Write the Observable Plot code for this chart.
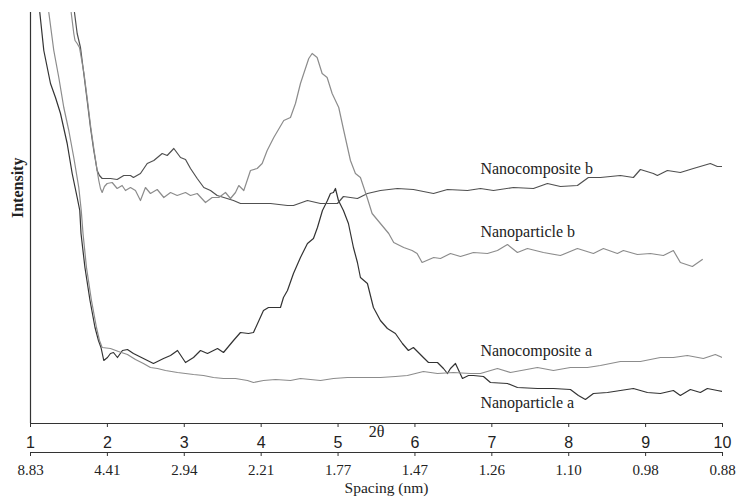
<!DOCTYPE html>
<html><head><meta charset="utf-8">
<script src="https://cdn.jsdelivr.net/npm/d3@7"></script>
<script src="https://cdn.jsdelivr.net/npm/@observablehq/plot@0.6"></script>
<style>body{margin:0;background:#fff}</style>
</head><body><div id="chart"></div>
<script>
const twoThetaTicks = [1, 2, 3, 4, 5, 6, 7, 8, 9, 10];
const spacingLabels = ["8.83", "4.41", "2.94", "2.21", "1.77", "1.47", "1.26", "1.10", "0.98", "0.88"];
const seriesNames = ["Nanoparticle a", "Nanocomposite a", "Nanocomposite b", "Nanoparticle b"];
const seriesColors = ["#333333", "#8c8c8c", "#505050", "#8c8c8c"];

// [2θ, intensity (arbitrary units)]
const nanoparticleA = [[1.121,411],[1.173,373],[1.260,340],[1.325,326],[1.390,310],[1.477,280],[1.542,250],[1.607,226],[1.641,213],[1.657,190],[1.708,156],[1.774,123],[1.839,96],[1.884,83],[1.917,76],[1.953,63],[2.001,66],[2.040,70],[2.079,71],[2.131,66],[2.196,73],[2.261,74],[2.339,70],[2.391,68],[2.469,65],[2.599,60],[2.730,65],[2.821,68],[2.912,73],[3.016,61],[3.120,66],[3.211,73],[3.302,70],[3.432,75],[3.510,71],[3.640,83],[3.731,91],[3.835,90],[3.900,91],[4.030,113],[4.095,116],[4.147,116],[4.251,116],[4.290,126],[4.342,133],[4.420,150],[4.511,166],[4.602,180],[4.680,185],[4.732,196],[4.797,213],[4.862,223],[4.901,230],[4.940,231],[4.966,235],[5.005,223],[5.070,213],[5.135,200],[5.200,176],[5.252,161],[5.291,146],[5.382,140],[5.460,116],[5.551,103],[5.642,95],[5.746,90],[5.837,80],[5.915,73],[5.980,76],[6.110,66],[6.176,61],[6.293,61],[6.371,55],[6.423,50],[6.462,55],[6.527,60],[6.618,45],[6.696,48],[6.761,48],[6.891,47],[6.982,41],[7.203,40],[7.333,36],[7.593,35],[7.801,35],[8.022,34],[8.126,28],[8.217,24],[8.321,30],[8.503,31],[8.672,33],[8.841,35],[9.023,31],[9.192,30],[9.361,33],[9.452,28],[9.582,34],[9.712,31],[9.803,35],[9.933,33],[10.0,32]];

const nanocompositeA = [[1.238,411],[1.303,373],[1.368,346],[1.433,316],[1.498,293],[1.563,266],[1.628,236],[1.660,213],[1.683,190],[1.728,156],[1.793,123],[1.858,96],[1.897,83],[1.932,76],[2.040,75],[2.144,72],[2.261,69],[2.365,64],[2.469,60],[2.560,56],[2.651,55],[2.756,53],[2.912,51],[3.016,50],[3.120,49],[3.250,48],[3.380,46],[3.510,45],[3.666,45],[3.822,43],[3.900,41],[4.030,43],[4.186,44],[4.381,43],[4.511,45],[4.641,44],[4.771,43],[4.940,45],[5.122,46],[5.317,46],[5.551,46],[5.746,47],[5.902,48],[6.110,52],[6.293,50],[6.501,51],[6.722,50],[6.852,50],[7.073,55],[7.242,51],[7.593,56],[7.801,53],[8.022,56],[8.243,56],[8.412,58],[8.672,62],[8.932,62],[9.192,66],[9.361,66],[9.543,68],[9.751,65],[9.907,69],[10.0,66]];

const nanocompositeB = [[1.572,411],[1.607,390],[1.650,376],[1.693,350],[1.737,323],[1.780,296],[1.823,273],[1.867,253],[1.897,248],[1.932,245],[2.040,245],[2.127,244],[2.213,248],[2.300,248],[2.339,246],[2.430,250],[2.518,260],[2.604,263],[2.713,270],[2.778,268],[2.864,275],[2.951,266],[3.016,264],[3.081,255],[3.168,245],[3.254,236],[3.341,233],[3.428,228],[3.514,226],[3.640,223],[3.731,220],[3.900,220],[4.121,220],[4.342,218],[4.420,218],[4.602,223],[4.771,220],[4.992,220],[5.070,227],[5.252,225],[5.382,230],[5.551,233],[5.772,235],[5.980,234],[6.241,230],[6.423,234],[6.683,233],[6.852,235],[7.021,233],[7.281,236],[7.541,235],[7.723,240],[7.892,237],[8.113,238],[8.256,246],[8.412,246],[8.672,248],[8.841,246],[8.932,254],[9.101,250],[9.153,248],[9.283,253],[9.452,251],[9.621,255],[9.842,260],[9.933,257],[10.0,257]];

const nanoparticleB = [[1.529,411],[1.563,390],[1.579,383],[1.607,380],[1.637,376],[1.696,350],[1.741,323],[1.784,296],[1.827,273],[1.871,251],[1.888,243],[1.910,235],[1.932,231],[1.962,237],[1.997,240],[2.062,241],[2.127,235],[2.192,238],[2.235,233],[2.300,236],[2.365,233],[2.430,223],[2.495,236],[2.560,230],[2.648,234],[2.734,226],[2.821,231],[2.908,228],[3.016,231],[3.081,228],[3.168,230],[3.276,221],[3.363,226],[3.449,226],[3.536,231],[3.601,225],[3.666,231],[3.709,238],[3.774,233],[3.861,253],[3.948,255],[4.013,260],[4.078,273],[4.164,286],[4.294,303],[4.381,306],[4.446,320],[4.511,340],[4.554,350],[4.619,365],[4.663,370],[4.728,366],[4.793,350],[4.858,346],[4.923,330],[5.009,316],[5.074,293],[5.161,263],[5.226,250],[5.291,246],[5.378,226],[5.443,210],[5.551,200],[5.659,190],[5.724,181],[5.854,176],[5.963,173],[6.028,170],[6.093,161],[6.244,166],[6.332,165],[6.462,170],[6.592,167],[6.761,171],[6.943,170],[7.073,173],[7.203,179],[7.333,171],[7.463,175],[7.671,171],[7.892,168],[8.113,175],[8.321,170],[8.451,175],[8.633,170],[8.711,173],[8.893,169],[9.062,170],[9.231,168],[9.361,173],[9.452,161],[9.608,157],[9.738,164]];

// series label anchors [2θ, intensity]
const labelText = ["Nanocomposite b", "Nanoparticle b", "Nanocomposite a", "Nanoparticle a"];
const labelPos = [[6.852, 255], [6.852, 192], [6.852, 73], [6.852, 21]];

const seriesData = [nanoparticleA, nanocompositeA, nanocompositeB, nanoparticleB];
const rows = seriesData.flatMap((arr, i) => arr.map(([t, v]) => ({series: seriesNames[i], t, v})));
const labels = labelText.map((text, i) => ({text, t: labelPos[i][0], v: labelPos[i][1]}));
const spacingByTick = new Map(twoThetaTicks.map((t, i) => [t, spacingLabels[i]]));

const serif = "'Liberation Serif', 'Times New Roman', serif";
const sans = "'Liberation Sans', Arial, sans-serif";

const chart = Plot.plot({
  width: 737,
  height: 499,
  marginLeft: 30,
  marginRight: 15,
  marginTop: 12,
  marginBottom: 76,
  style: {background: "#fff", color: "#222"},
  x: {domain: [1, 10]},
  y: {domain: [0, 411], axis: null},
  color: {domain: seriesNames, range: seriesColors},
  marks: [
    Plot.line(rows, {x: "t", y: "v", z: "series", stroke: "series", strokeWidth: 1.2, clip: true}),
    Plot.ruleY([0], {stroke: "#333", strokeWidth: 1.2}),
    Plot.ruleX([1], {stroke: "#333", strokeWidth: 1.2}),
    Plot.axisX({ticks: twoThetaTicks, tickFormat: d => String(d), tickSize: 4, tickPadding: 9, label: null,
      fontFamily: sans, fontSize: 16, stroke: "#333"}),
    Plot.ruleY([0], {stroke: "#333", strokeWidth: 1.2, dy: 29}),
    Plot.axisX({ticks: twoThetaTicks, tickFormat: d => spacingByTick.get(d), tickSize: 4, tickPadding: 8, label: null,
      fontFamily: serif, fontSize: 15, stroke: "#333", dy: 29}),
    Plot.text(labels, {x: "t", y: "v", text: "text", textAnchor: "start", lineAnchor: "middle",
      fontFamily: serif, fontSize: 16, fill: "#222"}),
    Plot.text(["2θ"], {frameAnchor: "bottom", dy: 13, text: d => d, fontFamily: serif, fontSize: 16, fill: "#222"}),
    Plot.text(["Spacing (nm)"], {frameAnchor: "bottom", dy: 69, dx: 10, text: d => d, fontFamily: serif, fontSize: 15.5, fill: "#222"}),
    Plot.text(["Intensity"], {frameAnchor: "left", dx: -13, rotate: -90, text: d => d, fontFamily: serif, fontWeight: "bold", fontSize: 16, fill: "#222"})
  ]
});
document.getElementById("chart").append(chart);
</script>
</body></html>
